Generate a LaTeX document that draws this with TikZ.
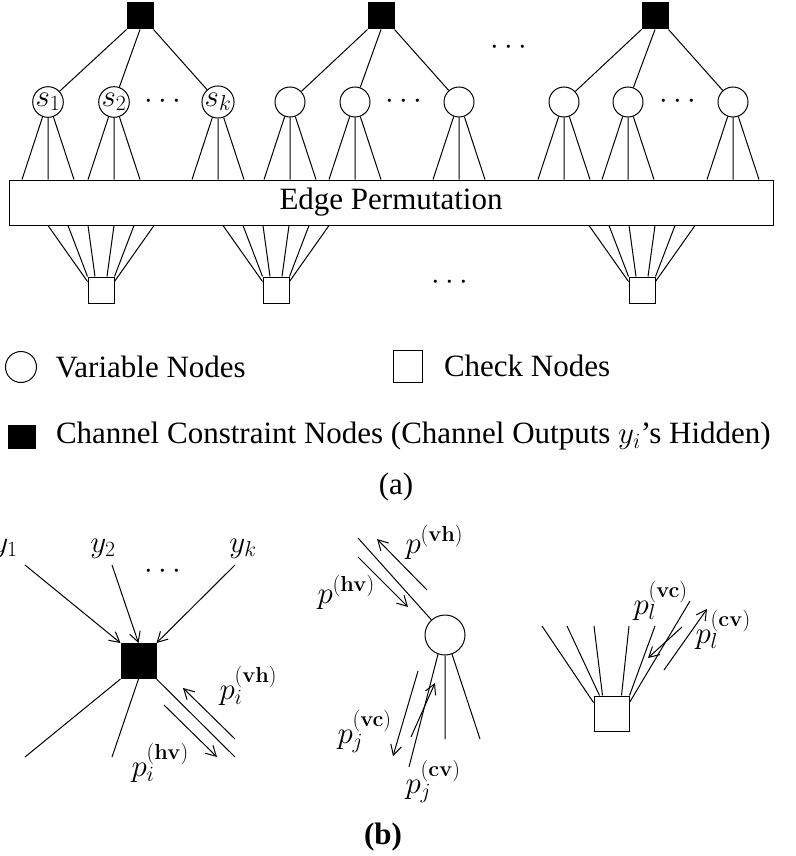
\RequirePackage{fix-cm}
\documentclass[tikz,border=0pt]{standalone}
\usepackage[no-math]{fontspec}
\setmainfont{Liberation Serif}
\usetikzlibrary{positioning,calc,arrows.meta}

\begin{document}
\begin{tikzpicture}[x=1pt, y=-1pt, line width=1pt,
  font=\fontsize{31}{37}\selectfont,
  var node/.style={draw, circle, inner sep=0pt, minimum size=30pt},
  chk node/.style={draw, rectangle, inner sep=0pt, minimum size=26pt},
  obs node/.style={draw, fill=black, rectangle, inner sep=0pt, minimum size=26pt},
  msg/.style={-{Straight Barb[length=10pt,width=11pt]}},
  lbl/.style={inner sep=0pt}]
\useasboundingbox (0,0) rectangle (795,856);

%% (a) the factor graph
\node[obs node] (h1) at (140,16) {};
\node[obs node] (h2) at (381,16) {};
\node[obs node] (h3) at (655,16) {};
\node at (509,48) {$\cdots$};

\node[var node] (v1) at (48,102)  {$s_1$};
\node[var node] (v2) at (114,102) {$s_2$};
\node[var node] (v3) at (218,102) {$s_k$};
\node[var node] (v4) at (290,102) {};
\node[var node] (v5) at (355,102) {};
\node[var node] (v6) at (459,102) {};
\node[var node] (v7) at (564,102) {};
\node[var node] (v8) at (628,102) {};
\node[var node] (v9) at (733,102) {};
\node at (163,102) {$\cdots$};
\node at (404,102) {$\cdots$};
\node at (678,102) {$\cdots$};

\node[draw, inner sep=0pt, minimum width=764pt, minimum height=45pt] (perm) at (391,202.5) {Edge Permutation};

\node[chk node] (c1) at (101,290) {};
\node[chk node] (c2) at (276,290) {};
\node[chk node] (c3) at (642,290) {};
\node at (450,283) {$\cdots$};

\draw (h1.south west) -- (v1) (h1.south) -- (v2) (h1.south east) -- (v3);
\draw (h2.south west) -- (v4) (h2.south) -- (v5) (h2.south east) -- (v6);
\draw (h3.south west) -- (v7) (h3.south) -- (v8) (h3.south east) -- (v9);

\foreach \i in {1,...,9}
  \draw (v\i.-110) -- ($(v\i |- perm.north)+(-26,0)$)
        (v\i.south) -- (v\i |- perm.north)
        (v\i.-70)  -- ($(v\i |- perm.north)+(26,0)$);

\foreach \c in {c1,c2,c3}
  \draw ([yshift=-5pt]\c.north west) -- ($(\c |- perm.south)+(-53,0)$)
        (\c.north west)              -- ($(\c |- perm.south)+(-33,0)$)
        ([xshift=-6pt]\c.north)      -- ($(\c |- perm.south)+(-13,0)$)
        ([xshift=6pt]\c.north)       -- ($(\c |- perm.south)+(13,0)$)
        (\c.north east)              -- ($(\c |- perm.south)+(33,0)$)
        ([yshift=-5pt]\c.north east) -- ($(\c |- perm.south)+(53,0)$);

% legend
\node[var node, minimum size=31pt] (lv) at (21,367) {};
\node[lbl, right=18pt of lv] {Variable Nodes};
\node[chk node, minimum width=29pt, minimum height=32pt] (lc) at (407.5,366) {};
\node[lbl, right=21pt of lc] {Check Nodes};
\node[obs node, minimum width=27pt, minimum height=23pt] (lh) at (21.5,436.5) {};
\node[lbl, right=20pt of lh] {Channel Constraint Nodes (Channel Outputs $y_i$'s Hidden)};
\node at (396,487) {(a)};

%% (b) messages at a channel node
\node[obs node, minimum size=35pt] (hb) at (138.5,661) {};
\node[anchor=base] (y1) at (5,552)   {$y_1$};
\node[anchor=base] (y2) at (103,552) {$y_2$};
\node[anchor=base] (yk) at (243,552) {$y_k$};
\node at (163,572) {$\cdots$};
\coordinate (a1) at (25,565);
\coordinate (a2) at (112,565);
\coordinate (a3) at (235,565);
\draw[msg] (a1) -- (hb.north west);
\draw[msg] (a2) -- (hb.north);
\draw[msg] (a3) -- (hb.north east);
\coordinate (b1) at (25,757);
\coordinate (b2) at (112,757);
\coordinate (b3) at (235,757);
\draw (hb.south west) -- (b1) (hb.south) -- (b2) (hb.south east) -- (b3);
\coordinate (hvh0) at (235,739); \coordinate (hvh1) at (183,688);
\coordinate (hhv0) at (164,705); \coordinate (hhv1) at (217,757);
\draw[msg] (hvh0) -- (hvh1);
\draw[msg] (hhv0) -- (hhv1);
\node[lbl, anchor=base west] at (219,699) {$p_i^{\mathbf{(vh)}}$};
\node[lbl, anchor=base west] at (131,776) {$p_i^{\mathbf{(hv)}}$};

% messages at a variable node
\node[var node, minimum size=40pt] (vb) at (445,635) {};
\coordinate (d0) at (358,538);
\coordinate (d1) at (409,767);
\coordinate (d2) at (445,739);
\coordinate (d3) at (480,739);
\draw (d0) -- (vb);
\draw (vb.-110) -- (d1) (vb.south) -- (d2) (vb.-70) -- (d3);
\coordinate (vvh0) at (427,590); \coordinate (vvh1) at (377,539);
\coordinate (vhv0) at (358,557); \coordinate (vhv1) at (408,607);
\coordinate (vvc0) at (418,671); \coordinate (vvc1) at (393,756);
\coordinate (vcv0) at (411,737); \coordinate (vcv1) at (435,683);
\draw[msg] (vvh0) -- (vvh1);
\draw[msg] (vhv0) -- (vhv1);
\draw[msg] (vvc0) -- (vvc1);
\draw[msg] (vcv0) -- (vcv1);
\node[lbl, anchor=base west] at (405,553) {$p^{\mathbf{(vh)}}$};
\node[lbl, anchor=base west] at (317,603) {$p^{\mathbf{(hv)}}$};
\node[lbl, anchor=base west] at (337,743) {$p_j^{\mathbf{(vc)}}$};
\node[lbl, anchor=base west] at (405,793) {$p_j^{\mathbf{(cv)}}$};
\node at (383,837) {\textbf{(b)}};

% messages at a check node
\node[chk node, minimum size=35pt] (cb) at (611.5,713.5) {};
\coordinate (e1) at (542,626);
\coordinate (e2) at (567,626);
\coordinate (e3) at (594,626);
\coordinate (e4) at (629,626);
\coordinate (e5) at (655,626);
\coordinate (e6) at (690,601);
\draw ([yshift=-7pt]cb.north west) -- (e1)
      ([xshift=6pt]cb.north west)  -- (e2)
      ([xshift=9pt]cb.north west)  -- (e3)
      ([xshift=-8pt]cb.north east) -- (e4)
      (cb.north east)              -- (e5)
      ([yshift=-7pt]cb.north east) -- (e6);
\coordinate (cvc0) at (682,627); \coordinate (cvc1) at (648,658);
\coordinate (ccv0) at (664,670); \coordinate (ccv1) at (707,609);
\draw[msg] (cvc0) -- (cvc1);
\draw[msg] (ccv0) -- (ccv1);
\node[lbl, anchor=base west] at (633,614) {$p_l^{\mathbf{(vc)}}$};
\node[lbl, anchor=base west] at (695,643) {$p_l^{\mathbf{(cv)}}$};
\end{tikzpicture}
\end{document}
